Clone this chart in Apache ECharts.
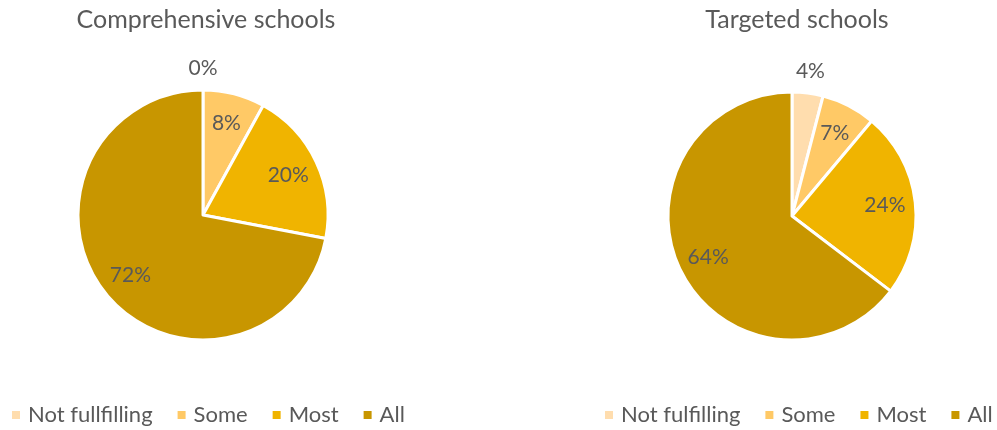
<!DOCTYPE html>
<html><head><meta charset="utf-8">
<script src="https://cdn.jsdelivr.net/npm/echarts@6/dist/echarts.min.js"></script>
<style>html,body{margin:0;padding:0;background:#fff}#c{width:997px;height:430px}</style>
</head><body><div id="c"></div>
<script>
const leftTitle = 'Comprehensive schools';
const rightTitle = 'Targeted schools';
const leftCategories = ['Not fullfilling', 'Some', 'Most', 'All'];
const rightCategories = ['Not fulfilling', 'Some', 'Most', 'All'];
const leftValues = [0, 8, 20, 72];
const rightValues = [4, 7, 24, 64];
const colors = ['#FFDDAE', '#FFC966', '#F0B400', '#C89600'];

const FONT = 'Lato';
const TXT = '#595959';

function pieSeries(cats, vals, center, r) {
  const visible = {
    type: 'pie', center: center, radius: r, startAngle: 90, clockwise: true,
    silent: true, avoidLabelOverlap: false,
    label: {show: false}, labelLine: {show: false},
    itemStyle: {borderColor: '#fff', borderWidth: 3},
    data: cats.map((c, i) => ({name: c, value: vals[i], itemStyle: {color: colors[i]}}))
  };
  const inner = {
    type: 'pie', center: center, radius: [r * 0.46, r], startAngle: 90, clockwise: true,
    silent: true, avoidLabelOverlap: false, labelLine: {show: false},
    itemStyle: {color: 'rgba(0,0,0,0)', borderWidth: 0},
    data: cats.map((c, i) => ({name: c, value: vals[i],
      label: {show: vals[i] >= 5, position: 'inside', formatter: vals[i] + '%',
        color: TXT, fontFamily: FONT, fontSize: 21}}))
  };
  const outer = {
    type: 'pie', center: center, radius: [r * 1.05, r * 1.25], startAngle: 90, clockwise: true,
    silent: true, avoidLabelOverlap: false, labelLine: {show: false},
    itemStyle: {color: 'rgba(0,0,0,0)', borderWidth: 0},
    data: cats.map((c, i) => ({name: c, value: vals[i],
      label: {show: vals[i] < 5, position: 'inside', formatter: vals[i] + '%',
        color: TXT, fontFamily: FONT, fontSize: 21}}))
  };
  return [visible, inner, outer];
}

const chart = echarts.init(document.getElementById('c'));
chart.setOption({
  animation: false,
  backgroundColor: '#fff',
  title: [
    {text: leftTitle, left: 201, top: 2, textAlign: 'center',
     textStyle: {color: TXT, fontFamily: FONT, fontWeight: 'normal', fontSize: 25}},
    {text: rightTitle, left: 792, top: 2, textAlign: 'center',
     textStyle: {color: TXT, fontFamily: FONT, fontWeight: 'normal', fontSize: 25}}
  ],
  legend: [
    {data: leftCategories, left: 5, top: 399, width: 420, icon: 'rect', itemWidth: 10, itemHeight: 10,
     itemGap: 23, selectedMode: false, padding: 5,
     textStyle: {color: TXT, fontFamily: FONT, fontSize: 22, padding: [0, 0, 0, 2]}},
    {data: rightCategories, left: 598, top: 399, width: 420, icon: 'rect', itemWidth: 10, itemHeight: 10,
     itemGap: 23, selectedMode: false, padding: 5,
     textStyle: {color: TXT, fontFamily: FONT, fontSize: 22, padding: [0, 0, 0, 2]}}
  ],
  series: [
    ...pieSeries(leftCategories, leftValues, [203, 215], 125),
    ...pieSeries(rightCategories, rightValues, [792, 216], 124)
  ]
});
</script></body></html>
